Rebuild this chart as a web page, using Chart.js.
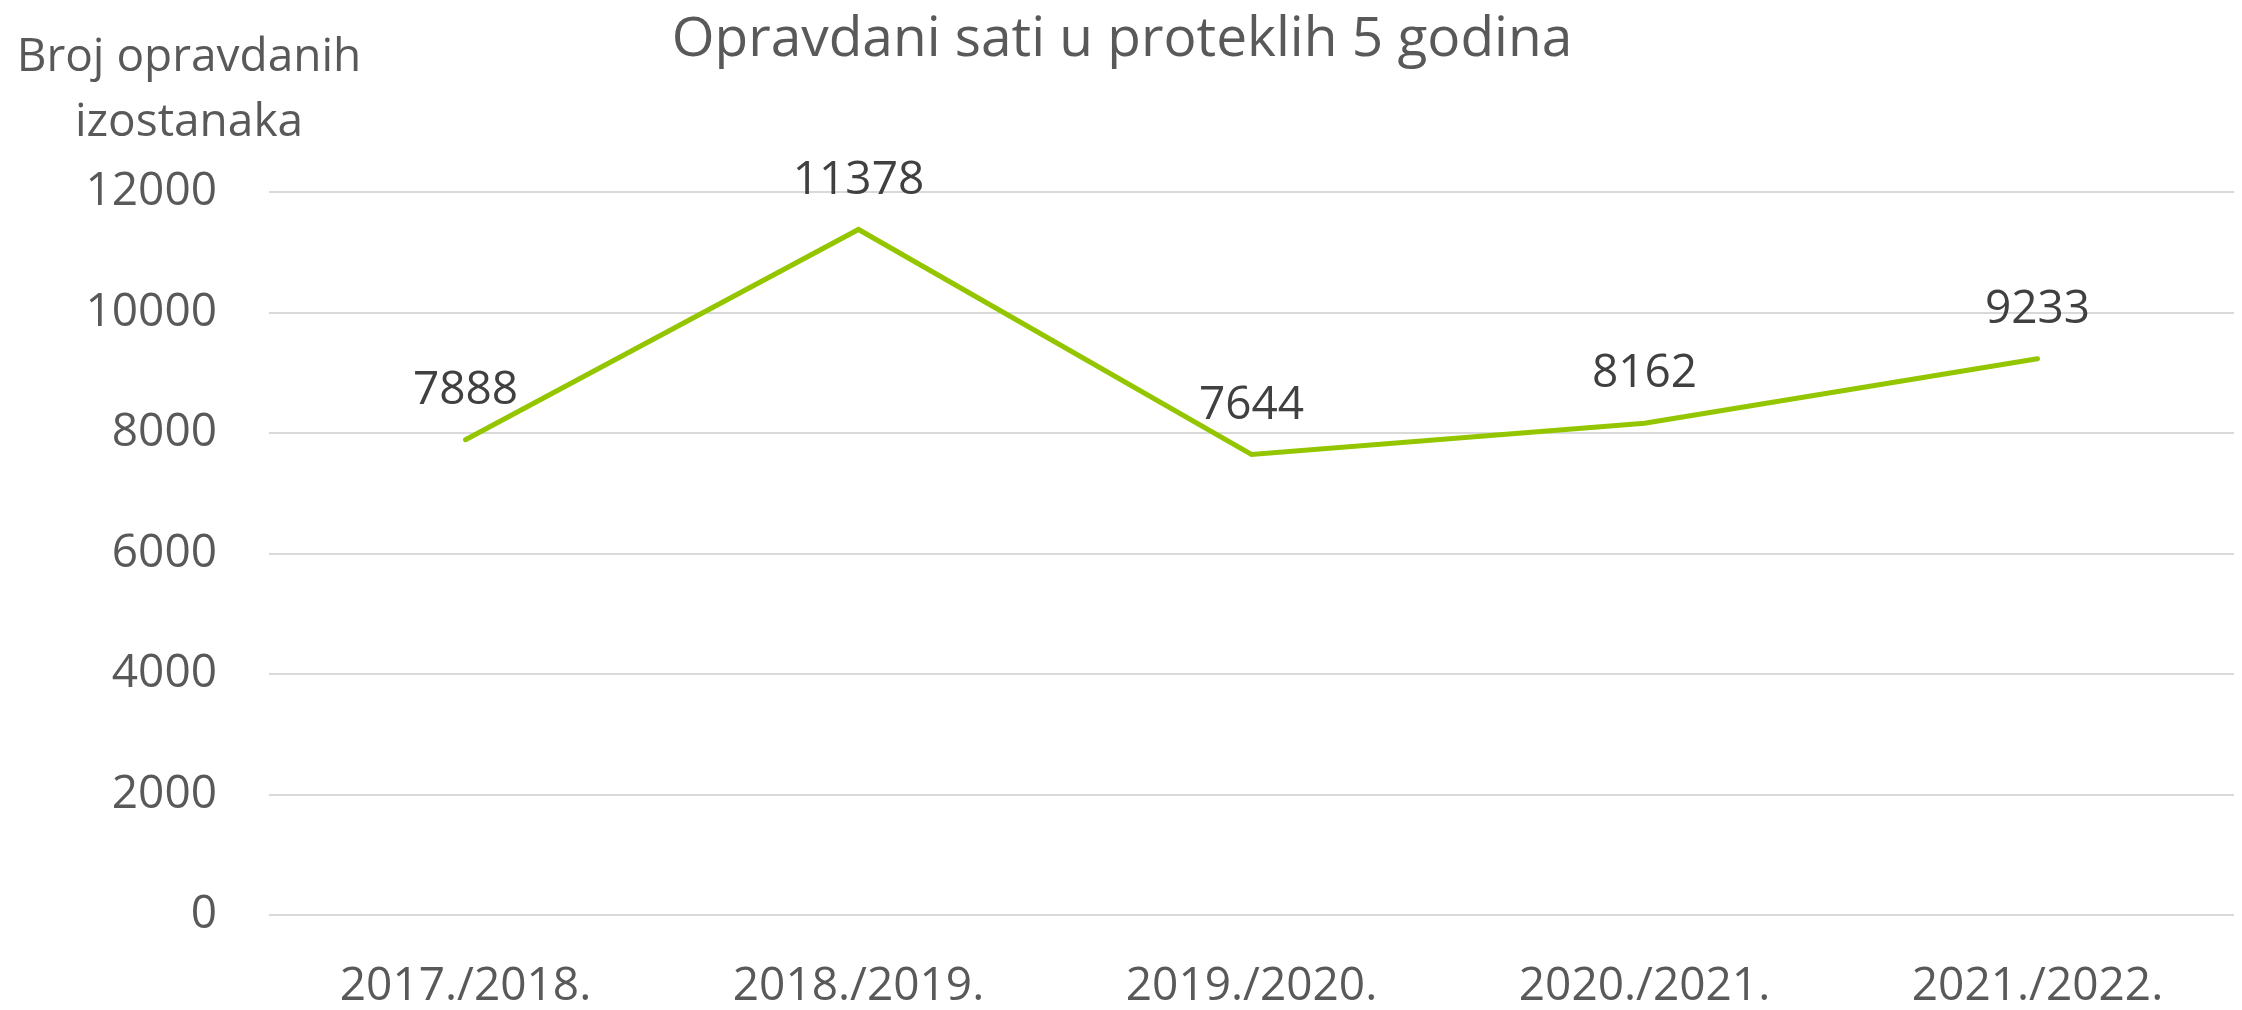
<!DOCTYPE html>
<html>
<head>
<meta charset="utf-8">
<script src="https://cdn.jsdelivr.net/npm/chart.js@4.4.1/dist/chart.umd.min.js"></script>
<style>
  html, body { margin: 0; padding: 0; background: #fff; }
  #chart { display: block; }
</style>
</head>
<body>
<canvas id="chart" width="2242" height="1010"></canvas>
<script>
var categories = ['2017./2018.', '2018./2019.', '2019./2020.', '2020./2021.', '2021./2022.'];
var hours = [7888, 11378, 7644, 8162, 9233];
var yTicks = [0, 2000, 4000, 6000, 8000, 10000, 12000];

var chartTitle = 'Opravdani sati u proteklih 5 godina';
var axisTitle = ['Broj opravdanih', 'izostanaka'];

var FONT = "'Open Sans', 'Noto Sans', sans-serif";

// value labels above each point
var valueLabels = {
    id: 'valueLabels',
    afterDatasetsDraw: function (chart) {
        var ctx = chart.ctx;
        var meta = chart.getDatasetMeta(0);
        ctx.save();
        ctx.font = '46px ' + FONT;
        ctx.fillStyle = '#404040';
        ctx.textAlign = 'center';
        ctx.textBaseline = 'middle';
        meta.data.forEach(function (pt, i) {
            ctx.fillText(String(hours[i]), pt.x, pt.y - 49);
        });
        ctx.restore();
    }
};

// chart title and the value axis title in the top left
var headings = {
    id: 'headings',
    afterDraw: function (chart) {
        var ctx = chart.ctx;
        ctx.save();
        ctx.fillStyle = '#595959';
        ctx.textAlign = 'center';
        ctx.textBaseline = 'alphabetic';
        ctx.font = '55px ' + FONT;
        ctx.fillText(chartTitle, 1122, 56);
        ctx.font = '46px ' + FONT;
        ctx.fillText(axisTitle[0], 189, 71);
        ctx.fillText(axisTitle[1], 189, 136);
        ctx.restore();
    }
};

var ctx = document.getElementById('chart').getContext('2d');
var chart = new Chart(ctx, {
    type: 'line',
    data: {
        labels: categories,
        datasets: [{
            label: 'Opravdani sati',
            data: hours,
            borderColor: '#94C600',
            backgroundColor: '#94C600',
            borderWidth: 5,
            borderCapStyle: 'round',
            borderJoinStyle: 'miter',
            pointRadius: 0,
            tension: 0
        }]
    },
    options: {
        responsive: false,
        animation: false,
        devicePixelRatio: 1,
        layout: { padding: { top: 192, right: 8, left: 0, bottom: 0 } },
        plugins: {
            legend: { display: false },
            title: { display: false },
            tooltip: { enabled: false }
        },
        scales: {
            x: {
                offset: true,
                grid: { display: false, drawTicks: false },
                border: { display: false },
                ticks: {
                    color: '#595959',
                    font: { family: FONT, size: 46 },
                    padding: 44,
                    maxRotation: 0
                },
                afterFit: function (s) { s.height = 95; }
            },
            y: {
                min: 0,
                max: 12000,
                afterBuildTicks: function (s) {
                    s.ticks = yTicks.map(function (v) { return { value: v }; });
                },
                grid: { color: '#D9D9D9', lineWidth: 2, drawTicks: false },
                border: { display: false },
                ticks: {
                    color: '#595959',
                    font: { family: FONT, size: 46 },
                    padding: 52,
                    callback: function (v) { return String(v); }
                },
                afterFit: function (s) { s.width = 269; }
            }
        }
    },
    plugins: [valueLabels, headings]
});
</script>
</body>
</html>
